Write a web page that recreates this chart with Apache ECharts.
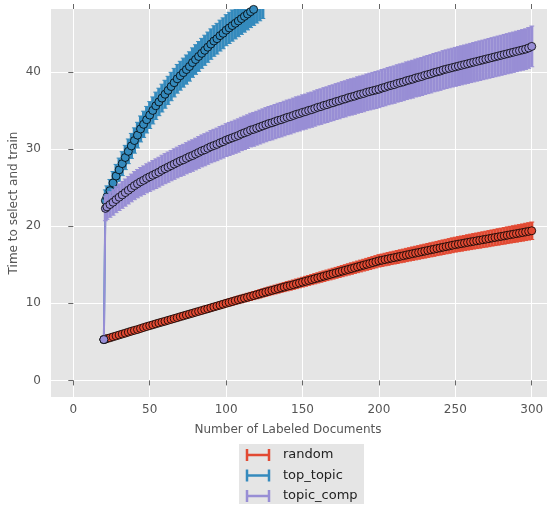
<!DOCTYPE html>
<html><head><meta charset="utf-8">
<script src="https://cdn.jsdelivr.net/npm/echarts@6/dist/echarts.min.js"></script>
<style>html,body{margin:0;padding:0;background:#fff}#c{width:550px;height:506px}</style>
</head><body><div id="c"></div>
<script>
// Number of labeled documents (x positions of the points)
const docs = [20,21,22,24,26,28,30,32,34,36,38,
40,42,44,46,48,50,52,54,56,58,
60,62,64,66,68,70,72,74,76,78,
80,82,84,86,88,90,92,94,96,98,
100,102,104,106,108,110,112,114,116,118,
120,122,124,126,128,130,132,134,136,138,
140,142,144,146,148,150,152,154,156,158,
160,162,164,166,168,170,172,174,176,178,
180,182,184,186,188,190,192,194,196,198,
200,202,204,206,208,210,212,214,216,218,
220,222,224,226,228,230,232,234,236,238,
240,242,244,246,248,250,252,254,256,258,
260,262,264,266,268,270,272,274,276,278,
280,282,284,286,288,290,292,294,296,298,
300];

const randomVals = [5.30,5.35,5.42,5.52,5.65,5.77,5.89,6.01,6.13,6.26,6.38,
6.49,6.60,6.73,6.86,6.98,7.10,7.21,7.33,7.45,7.56,
7.67,7.79,7.91,8.02,8.14,8.26,8.37,8.49,8.60,8.71,
8.83,8.95,9.06,9.18,9.29,9.41,9.53,9.64,9.76,9.88,
10.00,10.11,10.22,10.34,10.45,10.56,10.67,10.78,10.89,11.00,
11.11,11.22,11.34,11.45,11.56,11.67,11.78,11.89,12.00,12.10,
12.21,12.30,12.41,12.52,12.63,12.74,12.85,12.96,13.07,13.18,
13.29,13.40,13.51,13.62,13.73,13.84,13.95,14.06,14.17,14.28,
14.39,14.50,14.61,14.72,14.83,14.94,15.05,15.16,15.27,15.38,
15.50,15.58,15.67,15.75,15.84,15.92,16.00,16.09,16.17,16.26,
16.34,16.43,16.51,16.59,16.68,16.76,16.85,16.93,17.01,17.10,
17.18,17.27,17.35,17.43,17.52,17.60,17.67,17.74,17.81,17.89,
17.96,18.03,18.10,18.17,18.24,18.31,18.38,18.46,18.53,18.60,
18.67,18.74,18.82,18.89,18.96,19.03,19.10,19.17,19.25,19.32,
19.40];
const randomErr = [0.10,0.20,0.20,0.21,0.22,0.22,0.23,0.24,0.24,0.25,0.26,
0.26,0.27,0.28,0.28,0.29,0.30,0.30,0.31,0.32,0.32,
0.33,0.34,0.34,0.35,0.36,0.36,0.37,0.38,0.38,0.39,
0.40,0.40,0.41,0.42,0.42,0.43,0.44,0.44,0.45,0.46,
0.46,0.47,0.48,0.48,0.49,0.50,0.50,0.51,0.52,0.52,
0.53,0.54,0.54,0.55,0.56,0.56,0.57,0.58,0.58,0.59,
0.60,0.60,0.61,0.62,0.62,0.63,0.64,0.64,0.65,0.66,
0.66,0.67,0.68,0.68,0.69,0.70,0.70,0.71,0.72,0.72,
0.73,0.74,0.74,0.75,0.76,0.76,0.77,0.78,0.78,0.79,
0.80,0.80,0.81,0.82,0.82,0.83,0.84,0.84,0.85,0.86,
0.86,0.87,0.88,0.88,0.89,0.90,0.90,0.91,0.92,0.92,
0.93,0.94,0.94,0.95,0.96,0.96,0.97,0.98,0.98,0.99,
1.00,1.00,1.01,1.02,1.02,1.03,1.04,1.04,1.05,1.06,
1.06,1.07,1.08,1.08,1.09,1.10,1.10,1.11,1.12,1.12,
1.13];

const topTopicVals = [5.30,23.30,23.80,24.60,25.60,26.50,27.30,28.10,28.90,29.70,30.40,
31.10,31.80,32.60,33.20,33.80,34.40,35.00,35.60,36.10,36.60,
37.10,37.60,38.10,38.60,39.10,39.50,39.90,40.30,40.70,41.20,
41.60,42.00,42.40,42.80,43.20,43.60,44.00,44.30,44.70,45.00,
45.40,45.70,46.00,46.30,46.60,46.90,47.20,47.50,47.80,48.10,
48.40,48.70,49.00];
const topTopicErr = [0.10,1.40,1.42,1.45,1.48,1.50,1.52,1.55,1.57,1.60,1.62,
1.64,1.66,1.68,1.70,1.72,1.74,1.75,1.77,1.78,1.80,
1.81,1.82,1.84,1.85,1.86,1.87,1.88,1.89,1.90,1.91,
1.92,1.93,1.94,1.95,1.96,1.97,1.98,1.99,2.00,2.00,
2.01,2.02,2.02,2.03,2.04,2.04,2.05,2.06,2.06,2.07,
2.07,2.08,2.08];

const topicCompVals = [5.30,22.30,22.50,22.80,23.10,23.45,23.75,24.05,24.35,24.65,24.95,
25.25,25.50,25.75,25.95,26.20,26.40,26.60,26.80,27.00,27.25,
27.45,27.65,27.85,28.05,28.25,28.45,28.60,28.80,29.00,29.15,
29.35,29.55,29.75,29.90,30.10,30.30,30.45,30.60,30.80,30.95,
31.15,31.30,31.45,31.60,31.75,31.95,32.10,32.25,32.45,32.55,
32.70,32.85,33.00,33.15,33.30,33.40,33.55,33.70,33.80,33.95,
34.10,34.20,34.35,34.50,34.60,34.75,34.85,35.00,35.10,35.25,
35.40,35.50,35.65,35.75,35.90,36.00,36.15,36.25,36.40,36.50,
36.65,36.75,36.85,37.00,37.10,37.20,37.35,37.45,37.55,37.65,
37.75,37.90,38.00,38.15,38.25,38.35,38.50,38.60,38.70,38.85,
38.95,39.05,39.20,39.30,39.40,39.55,39.65,39.75,39.90,40.00,
40.10,40.25,40.35,40.45,40.55,40.65,40.75,40.85,40.95,41.05,
41.15,41.25,41.35,41.45,41.55,41.65,41.75,41.85,41.95,42.05,
42.15,42.25,42.35,42.45,42.55,42.65,42.75,42.85,42.95,43.10,
43.30];
const topicCompErr = [0.10,1.60,1.62,1.65,1.68,1.70,1.72,1.74,1.76,1.78,1.80,
1.82,1.83,1.85,1.86,1.88,1.89,1.90,1.92,1.93,1.94,
1.95,1.96,1.97,1.98,1.99,2.00,2.01,2.02,2.03,2.04,
2.05,2.06,2.07,2.08,2.08,2.09,2.10,2.11,2.11,2.12,
2.13,2.14,2.14,2.15,2.16,2.16,2.17,2.18,2.18,2.19,
2.19,2.20,2.20,2.21,2.21,2.22,2.22,2.23,2.23,2.24,
2.24,2.25,2.25,2.26,2.26,2.27,2.27,2.28,2.28,2.29,
2.29,2.30,2.30,2.31,2.31,2.32,2.32,2.33,2.33,2.34,
2.34,2.35,2.35,2.36,2.36,2.37,2.37,2.38,2.38,2.39,
2.39,2.40,2.40,2.41,2.41,2.42,2.42,2.43,2.43,2.44,
2.44,2.45,2.45,2.46,2.46,2.47,2.47,2.48,2.48,2.49,
2.49,2.50,2.50,2.51,2.51,2.52,2.52,2.53,2.53,2.54,
2.54,2.55,2.55,2.56,2.56,2.57,2.57,2.58,2.58,2.59,
2.59,2.60,2.60,2.61,2.61,2.62,2.62,2.63,2.63,2.64,
2.64];

const xTicks = [0,50,100,150,200,250,300];
const yTicks = [0,10,20,30,40];
const seriesNames = ['random','top_topic','topic_comp'];
const colors = ['#E24A33','#348ABD','#988ED5'];
const xTitle = 'Number of Labeled Documents';
const yTitle = 'Time to select and train';

const FONT = 'DejaVu Sans';
const GRID = {left:51, top:9, width:496, height:388};

function makeErr(color){
  return function(params, api){
    const x = api.value(0), y = api.value(1), e = api.value(2);
    const tp = api.coord([x, y + e]), bt = api.coord([x, y - e]);
    const cs = params.coordSys;
    const y0 = cs.y, y1 = cs.y + cs.height;
    const t = Math.max(tp[1], y0), b = Math.min(bt[1], y1);
    if (b <= t) return null;
    const ch = [{type:'line', shape:{x1:tp[0], y1:t, x2:tp[0], y2:b}, style:{stroke:color, lineWidth:3.2}}];
    if (tp[1] >= y0) ch.push({type:'line', shape:{x1:tp[0]-2.5, y1:tp[1], x2:tp[0]+2.5, y2:tp[1]}, style:{stroke:color, lineWidth:1}});
    if (bt[1] <= y1) ch.push({type:'line', shape:{x1:bt[0]-2.5, y1:bt[1], x2:bt[0]+2.5, y2:bt[1]}, style:{stroke:color, lineWidth:1}});
    return {type:'group', children:ch};
  };
}

const sets = [
  {vals: randomVals, err: randomErr},
  {vals: topTopicVals, err: topTopicErr},
  {vals: topicCompVals, err: topicCompErr}
];
const series = [];
sets.forEach((s, k) => {
  const n = s.vals.length;
  series.push({
    type:'custom', name: seriesNames[k] + '_err', z: 2 + 2*k, silent:true,
    renderItem: makeErr(colors[k]), clip:true,
    data: docs.slice(0, n).map((x, i) => [x, s.vals[i], s.err[i]]),
    animation:false
  });
  series.push({
    type:'line', name: seriesNames[k], z: 3 + 2*k, silent:true,
    data: docs.slice(0, n).map((x, i) => [x, s.vals[i]]),
    symbol:'circle', symbolSize:8, showSymbol:true, showAllSymbol:true, clip:true,
    lineStyle:{color:colors[k], width:2},
    itemStyle:{color:colors[k], borderColor:'#000', borderWidth:0.8},
    emphasis:{disabled:true}, animation:false
  });
});

const legendEls = [{type:'rect', shape:{x:239, y:444, width:125, height:60}, style:{fill:'#E5E5E5'}}];
seriesNames.forEach((nm, k) => {
  const cy = 455 + k*20.5;
  const c = colors[k];
  legendEls.push({type:'line', shape:{x1:247, y1:cy, x2:269, y2:cy}, style:{stroke:c, lineWidth:2.5}});
  legendEls.push({type:'line', shape:{x1:247, y1:cy-6, x2:247, y2:cy+6}, style:{stroke:c, lineWidth:2.5}});
  legendEls.push({type:'line', shape:{x1:269, y1:cy-6, x2:269, y2:cy+6}, style:{stroke:c, lineWidth:2.5}});
  legendEls.push({type:'text', x:283, y:cy, style:{text:nm, fontSize:13, fontFamily:FONT, fill:'#222', textAlign:'left', textVerticalAlign:'middle'}});
});

const chart = echarts.init(document.getElementById('c'), null, {renderer:'canvas'});
chart.setOption({
  animation:false,
  backgroundColor:'#ffffff',
  grid: Object.assign({show:true, backgroundColor:'#E5E5E5', borderWidth:0}, GRID),
  xAxis: [{
    type:'value', min:-14.6, max:310, position:'bottom',
    axisLine:{show:false},
    axisTick:{show:true, length:5, customValues:xTicks, lineStyle:{color:'#666'}},
    axisLabel:{customValues:xTicks, color:'#555', fontSize:12, fontFamily:FONT, margin:7},
    splitLine:{show:true, lineStyle:{color:'#ffffff', width:1}}
  },{
    type:'value', min:-14.6, max:310, position:'top',
    axisLine:{show:false},
    axisTick:{show:true, length:5, customValues:xTicks, lineStyle:{color:'#666'}},
    axisLabel:{show:false}, splitLine:{show:false}
  }],
  yAxis: [{
    type:'value', min:-2.15, max:48.15,
    axisLine:{show:false},
    axisTick:{show:true, length:5, customValues:yTicks, lineStyle:{color:'#666'}},
    axisLabel:{customValues:yTicks, color:'#555', fontSize:12, fontFamily:FONT, margin:10},
    splitLine:{show:true, lineStyle:{color:'#ffffff', width:1}}
  }],
  series: series,
  graphic: [
    {type:'text', x:288, y:430, style:{text:xTitle, fontSize:12, fontFamily:FONT, fill:'#555', textAlign:'center', textVerticalAlign:'middle'}},
    {type:'text', x:14, y:203, rotation:Math.PI/2, style:{text:yTitle, fontSize:12, fontFamily:FONT, fill:'#555', textAlign:'center', textVerticalAlign:'middle'}},
    {type:'group', children: legendEls}
  ]
});
</script>
</body></html>
